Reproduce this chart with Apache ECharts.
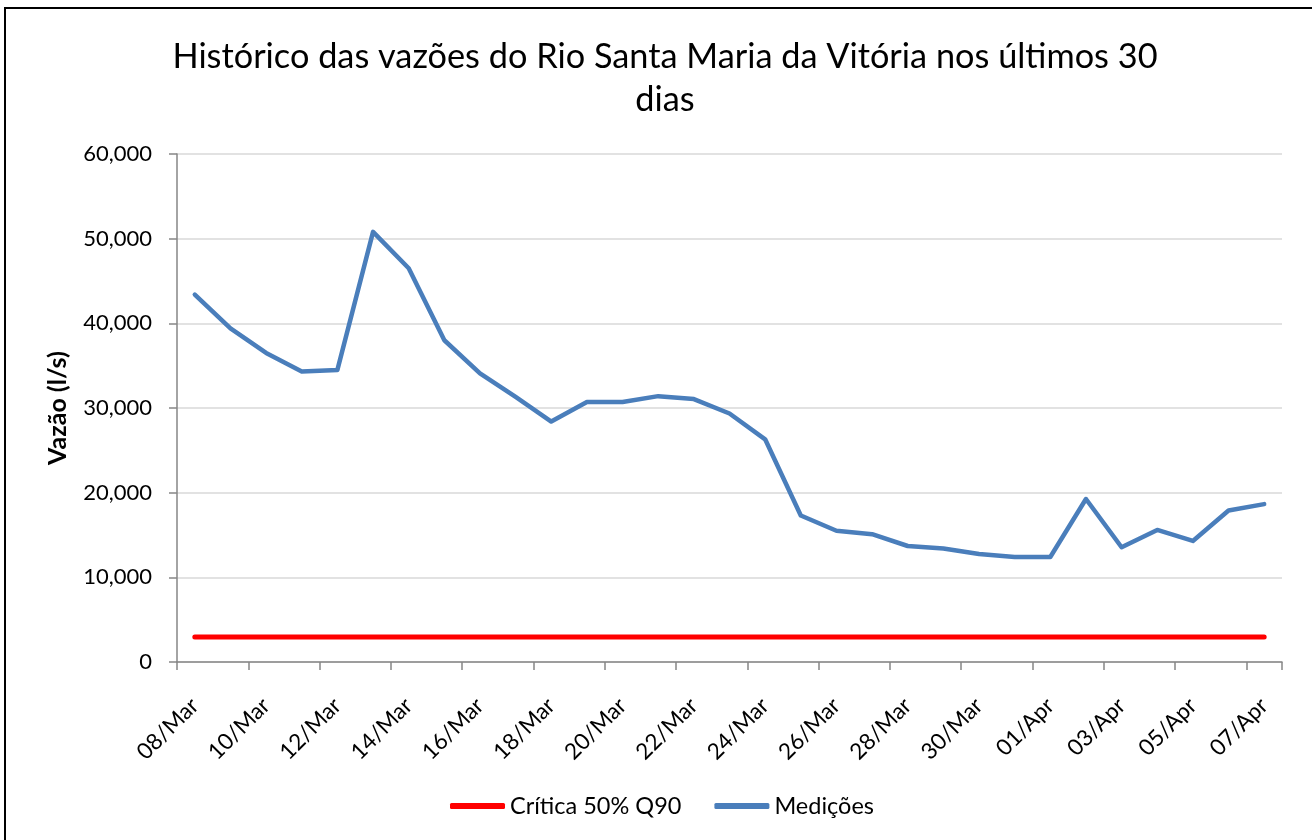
<!DOCTYPE html>
<html>
<head>
<meta charset="utf-8">
<script src="https://cdn.jsdelivr.net/npm/echarts@6/dist/echarts.min.js"></script>
<style>
html,body{margin:0;padding:0;background:#fff;}
#chart{width:1312px;height:840px;}
</style>
</head>
<body>
<div id="chart"></div>
<script>
var categories = ['08/Mar','09/Mar','10/Mar','11/Mar','12/Mar','13/Mar','14/Mar','15/Mar','16/Mar','17/Mar','18/Mar','19/Mar','20/Mar','21/Mar','22/Mar','23/Mar','24/Mar','25/Mar','26/Mar','27/Mar','28/Mar','29/Mar','30/Mar','31/Mar','01/Apr','02/Apr','03/Apr','04/Apr','05/Apr','06/Apr','07/Apr'];
var medicoes = [43400,39400,36500,34300,34500,50800,46500,38000,34100,31300,28400,30700,30700,31400,31050,29350,26300,17300,15500,15100,13700,13400,12750,12400,12400,19250,13550,15600,14300,17900,18650];
var critica = [2950,2950,2950,2950,2950,2950,2950,2950,2950,2950,2950,2950,2950,2950,2950,2950,2950,2950,2950,2950,2950,2950,2950,2950,2950,2950,2950,2950,2950,2950,2950];
var titleText = 'Histórico das vazões do Rio Santa Maria da Vitória nos últimos 30\ndias';
var yName = 'Vazão (l/s)';
var seriesNames = ['Crítica 50% Q90','Medições'];

var FONT = 'Lato';
var chart = echarts.init(document.getElementById('chart'), null, {renderer:'canvas'});
chart.setOption({
  animation:false,
  backgroundColor:'#fff',
  textStyle:{fontFamily:FONT},
  title:{
    text:titleText,
    left:660, textAlign:'center', top:30,
    textStyle:{fontFamily:FONT, fontSize:34.3, fontWeight:'normal', color:'#000', lineHeight:43}
  },
  graphic:[{
    type:'rect', shape:{x:5,y:8,width:1330,height:860},
    style:{fill:null, stroke:'#000', lineWidth:2}, silent:true, z:100
  }],
  legend:{
    top:789, left:445,
    itemWidth:55, itemHeight:6, itemGap:33,
    icon:'roundRect',
    textStyle:{fontFamily:FONT, fontSize:23.5, color:'#000'},
    data:seriesNames
  },
  grid:{left:177, right:30, top:154, bottom:178, containLabel:false},
  xAxis:{
    type:'category', data:categories, boundaryGap:true,
    axisLine:{lineStyle:{color:'#868686', width:1.5}},
    axisTick:{show:true, length:8, lineStyle:{color:'#868686', width:1.5}, interval:1},
    axisLabel:{interval:1, rotate:45, margin:40, padding:[38,0,0,0], fontFamily:FONT, fontSize:22.5, color:'#000'},
    splitLine:{show:false}
  },
  yAxis:{
    type:'value', min:0, max:60000, interval:10000,
    name:yName, nameLocation:'middle', nameGap:107, nameRotate:90,
    nameTextStyle:{fontFamily:FONT, fontSize:25, fontWeight:'bold', color:'#000'},
    axisLine:{show:true, lineStyle:{color:'#868686', width:1.5}},
    axisTick:{show:true, length:8, lineStyle:{color:'#868686', width:1.5}},
    axisLabel:{margin:25, fontFamily:FONT, fontSize:22, color:'#000',
      formatter:function(v){return v===0?'0':v.toLocaleString('en-US');}},
    splitLine:{lineStyle:{color:'#D9D9D9', width:1.5}}
  },
  series:[
    {name:seriesNames[0], type:'line', data:critica, symbol:'none',
     lineStyle:{color:'#FF0000', width:5, cap:'round'}, itemStyle:{color:'#FF0000'}},
    {name:seriesNames[1], type:'line', data:medicoes, symbol:'none',
     lineStyle:{color:'#4A7EBB', width:4.5, cap:'round', join:'round'}, itemStyle:{color:'#4A7EBB'}}
  ]
});
</script>
</body>
</html>
